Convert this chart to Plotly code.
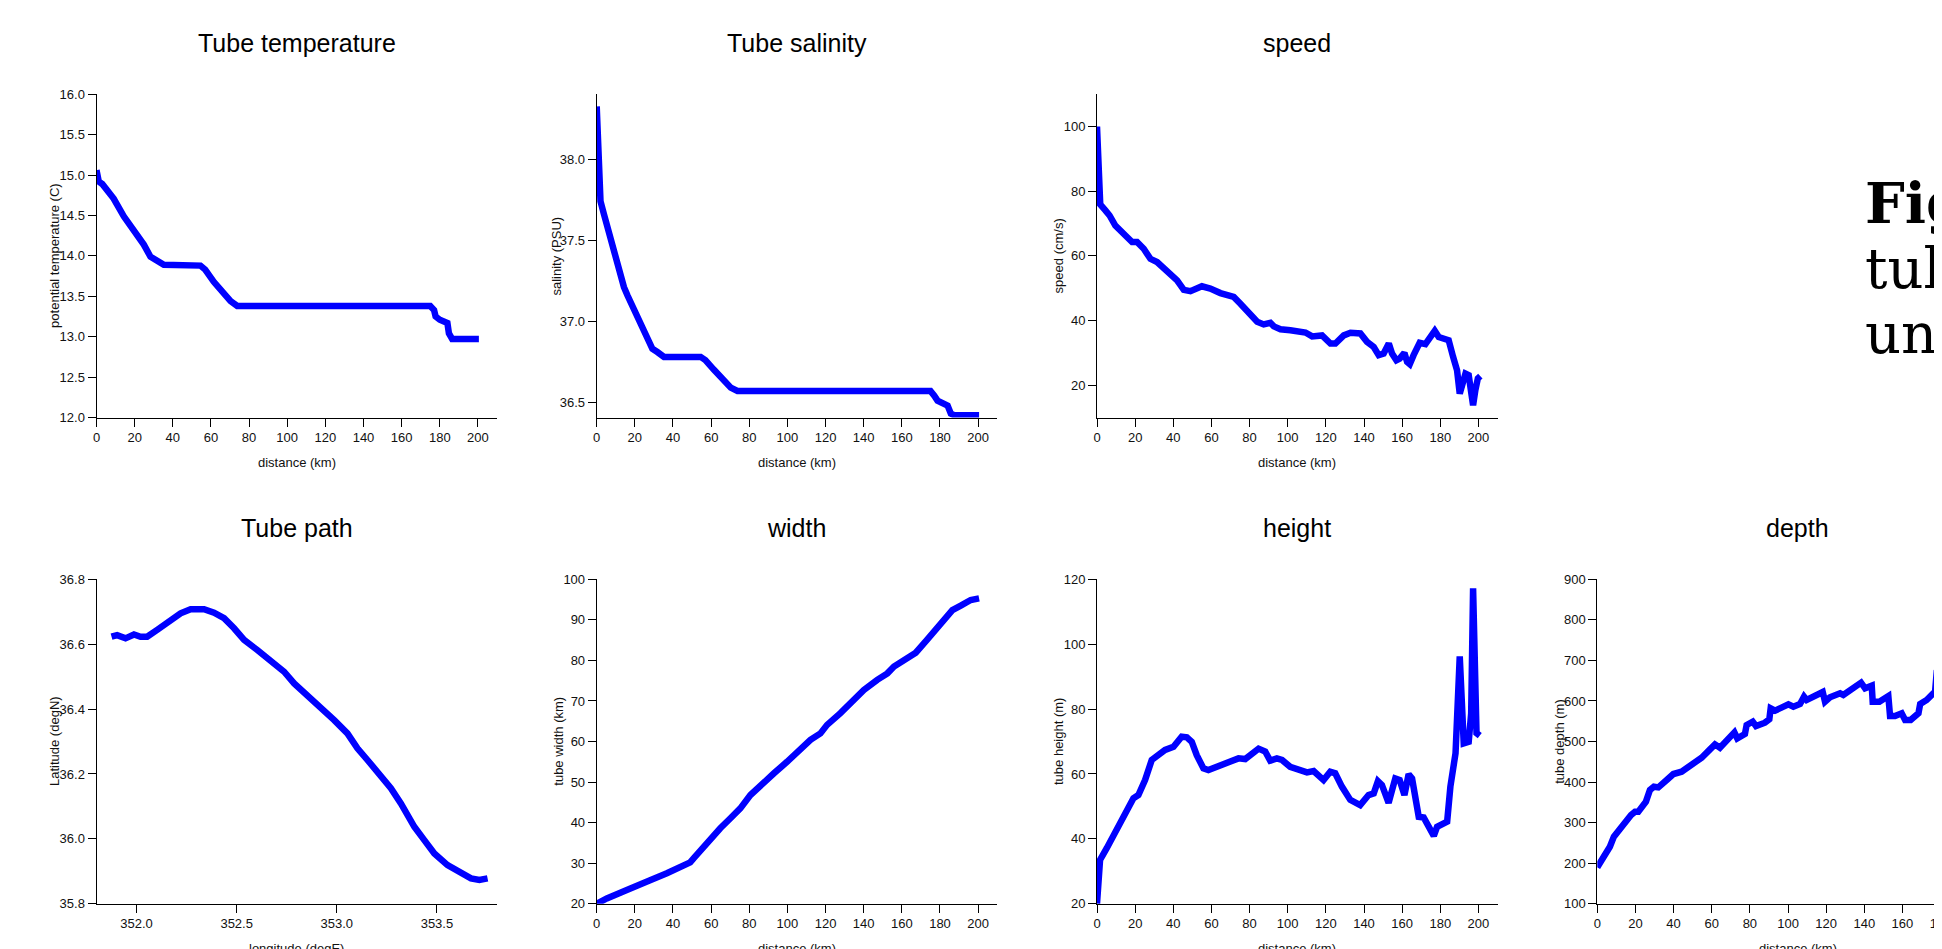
import plotly.graph_objects as go

# ---------------- data ----------------
temp_dist = [0, 0.6, 1.2, 3, 5.6, 9, 14.3, 17, 21.3, 24.8, 28.3, 31, 35.3, 54.5, 57, 61.5, 65, 70.3, 73.8,
             175, 177, 177.8, 180, 184, 184.8, 186.5, 200.5]
temp_vals = [15.06, 14.98, 14.92, 14.89, 14.82, 14.71, 14.49, 14.40, 14.28, 14.14, 13.99, 13.95, 13.89, 13.88,
             13.83, 13.68, 13.58, 13.44, 13.38, 13.38, 13.33, 13.25, 13.21, 13.17, 13.04, 12.97, 12.97]

sal_dist = [0, 0.5, 1.7, 2, 3.8, 6.5, 9.1, 11.7, 14.3, 16.1, 19.6, 21.9, 24, 26.6, 29.2, 31.8, 35.3,
            54.5, 57, 61.5, 65.9, 70.3, 73.8, 175, 177, 178.7, 184, 185.7, 187.4, 200.5]
sal_vals = [38.325, 38.16, 38.01, 37.74, 37.66, 37.54, 37.41, 37.31, 37.21, 37.16, 37.07, 37.01, 36.95,
            36.88, 36.83, 36.81, 36.78, 36.78, 36.76, 36.70, 36.64, 36.59, 36.57, 36.57, 36.54, 36.51,
            36.48, 36.43, 36.42, 36.42]

speed_dist = [0, 1.7, 4.4, 6.6, 9.6, 12.2, 14.9, 18.4, 21, 24.5, 28, 31.5, 35, 38.8, 42, 45.5, 49, 55,
              59.4, 64.7, 68.2, 71.7, 75.2, 79.5, 84, 87.4, 90.9, 92.7, 96.2, 101.4, 105.8, 109.3, 112.8,
              118, 122.4, 125, 129.4, 132.9, 138.1, 141.6, 145.1, 147.7, 150.3, 153, 154.7, 157, 158.7,
              161.2, 162.6, 164, 166, 169.2, 172.2, 174.8, 177.1, 179.2, 184.4, 186.7, 188.8, 190.2,
              191.4, 193.2, 194.9, 196.2, 197.2, 198.4, 199.7, 201]
speed_vals = [100, 75.9, 74.1, 72.5, 69.4, 68.1, 66.3, 64.3, 64.3, 62.2, 59.1, 58.1, 56.2, 54.7, 52.4,
              49.5, 49.1, 50.6, 49.9, 48.5, 48.0, 47.3, 45.2, 42.7, 39.6, 38.8, 39.3, 38.2, 37.3, 37.0,
              36.5, 36.3, 35.1, 35.4, 32.9, 32.9, 35.4, 36.2, 36.0, 33.4, 31.8, 29.3, 29.8, 32.9, 29.8,
              27.7, 28.2, 30.0, 27.2, 26.5, 29.3, 33.1, 32.7, 34.7, 36.8, 34.9, 33.9, 28.8, 24.6, 17.4,
              19.5, 23.6, 23.1, 17.9, 13.8, 18.5, 22.1, 22.8]

path_lon = [351.875, 351.903, 351.945, 351.987, 352.02, 352.053, 352.103, 352.153, 352.22, 352.27,
            352.337, 352.387, 352.437, 352.487, 352.537, 352.603, 352.67, 352.737, 352.787, 352.853,
            352.92, 352.987, 353.053, 353.103, 353.153, 353.22, 353.27, 353.32, 353.353, 353.387,
            353.437, 353.487, 353.553, 353.62, 353.67, 353.712, 353.753]
path_lat = [36.623, 36.628, 36.618, 36.630, 36.623, 36.623, 36.644, 36.664, 36.695, 36.708, 36.708,
            36.697, 36.680, 36.649, 36.613, 36.582, 36.551, 36.515, 36.479, 36.443, 36.407, 36.366,
            36.325, 36.279, 36.243, 36.192, 36.156, 36.109, 36.073, 36.037, 35.996, 35.955, 35.919,
            35.894, 35.878, 35.873, 35.878]

width_dist = [0, 5.3, 15.8, 21, 28, 36.8, 43.8, 49, 50.8, 54.3, 59.5, 64.8, 70, 75.3, 80.6, 85.8, 89.3,
              92.8, 99.8, 106.8, 112.1, 117.3, 120.8, 127.8, 134.8, 140.1, 147.1, 152.4, 155.9, 162,
              167.3, 173.4, 178.6, 182.1, 186.5, 190.9, 196.1, 200.5]
width_vals = [20, 21.3, 23.4, 24.6, 25.8, 27.5, 29.1, 30.2, 31.2, 33.2, 35.7, 38.6, 41.0, 43.5, 46.8,
              49.3, 50.5, 52.1, 55.0, 57.9, 60.4, 62.0, 64.1, 67.0, 70.2, 72.7, 75.2, 76.8, 78.5, 80.5,
              81.9, 85.2, 88.3, 90.4, 92.4, 93.5, 94.9, 95.3]

height_dist = [0, 1.6, 5.1, 8.6, 12.1, 15.6, 19.1, 21.7, 25.2, 28.7, 31.3, 35.7, 40.1, 44.4, 47.1, 49.7,
               52.3, 55.8, 58.4, 64.6, 69.8, 74.2, 77.7, 82, 84.7, 88.2, 90.8, 94.3, 97, 101.3, 106.6,
               110.1, 113.6, 116.2, 118.8, 122.3, 124.9, 128.4, 132.8, 138, 142.4, 145.1, 147.3, 149.4,
               152.9, 156.4, 158.7, 161.2, 163.4, 165.2, 168.7, 171.3, 176.6, 178.3, 183.6, 185.3, 188,
               190.2, 192.3, 194.9, 196.2, 197.2, 199, 200.7]
height_vals = [20, 33.5, 37.1, 41.2, 44.8, 48.9, 52.5, 53.5, 58.1, 64.3, 65.5, 67.4, 68.4, 71.5, 71.3,
               69.9, 65.8, 61.7, 61.2, 62.5, 64.0, 64.8, 64.6, 66.4, 67.8, 66.9, 64.1, 64.8, 64.3, 62.2,
               61.4, 60.5, 60.9, 59.7, 58.1, 60.7, 60.2, 56.1, 52.0, 50.4, 53.5, 54.0, 57.8, 56.6, 51.1,
               58.6, 58.1, 53.5, 59.9, 58.6, 46.8, 46.6, 40.9, 43.7, 45.3, 56.1, 66.4, 96.2, 69.4, 69.9,
               78.7, 117.2, 72.6, 71.8]

depth_dist = [0, 2.3, 4.5, 6.6, 8.7, 11.9, 14.5, 17.7, 19.8, 21.5, 25.5, 27.6, 29.7, 32, 36.4, 39.9, 44.2,
              49.5, 52.1, 54.7, 59.1, 61.7, 64.3, 68.7, 71.9, 73.4, 77.4, 78.3, 81.5, 83.2, 87.9, 90.2,
              90.9, 93.2, 100.2, 102.8, 106.3, 108.4, 109.8, 118.2, 119.4, 122, 127.3, 129, 134.3, 138.3,
              140.4, 143.9, 144.4, 147.9, 152.6, 153.5, 156.1, 159.6, 161.4, 164.3, 168.4, 169.3, 172.7,
              177.1, 178, 180.8, 185, 190, 195, 200]
depth_vals = [189.6, 207.7, 230.7, 240.6, 265.3, 285.8, 302.3, 318.7, 326.9, 326.9, 351.6, 380.4, 388.6,
              386.9, 405, 419.8, 425.6, 442.0, 454.4, 460.1, 480.7, 493.0, 484.8, 509.5, 522.6, 507.8,
              518.5, 540.7, 548.9, 538.2, 546.4, 554.7, 581.8, 576.1, 591.7, 585.9, 592.5, 610.6, 602.4,
              622.1, 598.3, 609.0, 618.8, 614.7, 631.1, 645.1, 631.1, 637.7, 598.3, 598.3, 612.2, 562.9,
              562.9, 569.5, 553.0, 553.0, 569.5, 592.5, 602.4, 622.9, 672.2, 682.1, 690, 700, 695, 710]

titles = ["Tube temperature", "Tube salinity", "speed", "Tube path", "width", "height", "depth"]
x_titles = ["distance (km)", "distance (km)", "distance (km)", "longitude (degE)",
            "distance (km)", "distance (km)", "distance (km)"]
y_titles = ["potential temperature (C)", "salinity (PSU)", "speed (cm/s)", "Latitude (degN)",
            "tube width (km)", "tube height (m)", "tube depth (m)"]
note_lines = ["<b>Figure 1.</b>", "tube properties along", "under the strait"]

# ---------------- layout geometry (page pixels) ----------------
W, H = 2000, 980
OFF = 8


def px_x(p):
    return (p - OFF) / W


def px_y(p):
    return 1 - (p - OFF) / H


col_left = [96.5, 596.7, 1097.0, 1597.3]
col_w = 400.5
row_top = [94.3, 579.3]
row_h = [323.2, 324.4]

panels = [
    dict(x=temp_dist, y=temp_vals, r=0, c=0, xr=[0, 210], yr=[12, 16], xd=20, yd=0.5, yf=".1f", xf="", yoff=41.5),
    dict(x=sal_dist, y=sal_vals, r=0, c=1, xr=[0, 210], yr=[36.406, 38.40], xd=20, yd=0.5, yf=".1f", xf="", yoff=40),
    dict(x=speed_dist, y=speed_vals, r=0, c=2, xr=[0, 210], yr=[10, 110], xd=20, yd=20, yf="", xf="", yoff=38.5),
    dict(x=path_lon, y=path_lat, r=1, c=0, xr=[351.8, 353.8], yr=[35.8, 36.8], xd=0.5, yd=0.2, yf=".1f", xf=".1f", yoff=42),
    dict(x=width_dist, y=width_vals, r=1, c=1, xr=[0, 210], yr=[20, 100], xd=20, yd=10, yf="", xf="", yoff=38.5),
    dict(x=height_dist, y=height_vals, r=1, c=2, xr=[0, 210], yr=[20, 120], xd=20, yd=20, yf="", xf="", yoff=38.5),
    dict(x=depth_dist, y=depth_vals, r=1, c=3, xr=[0, 210], yr=[100, 900], xd=20, yd=100, yf="", xf="", yoff=38),
]

FONT = "Liberation Sans, Arial, sans-serif"
fig = go.Figure()
annotations = []
layout = {}

for i, p in enumerate(panels):
    n = "" if i == 0 else str(i + 1)
    L = col_left[p["c"]]
    T = row_top[p["r"]]
    Hh = row_h[p["r"]]
    fig.add_trace(go.Scatter(x=p["x"], y=p["y"], mode="lines",
                             line=dict(color="#0000ff", width=6.5),
                             xaxis="x" + n, yaxis="y" + n, showlegend=False))
    common = dict(showline=True, linecolor="black", linewidth=1, ticks="outside", ticklen=8,
                  tickcolor="black", tickwidth=1, showgrid=False, zeroline=False,
                  tickfont=dict(family=FONT, size=13, color="#111111"), tick0=0)
    layout["xaxis" + n] = dict(domain=[px_x(L), px_x(L + col_w)], range=p["xr"], anchor="y" + n,
                               dtick=p["xd"], tickformat=p["xf"], **common)
    layout["yaxis" + n] = dict(domain=[px_y(T + Hh), px_y(T)], range=p["yr"], anchor="x" + n,
                               dtick=p["yd"], tickformat=p["yf"], **common)
    cx = L + col_w / 2
    annotations.append(dict(text=titles[i], x=px_x(cx), y=px_y(T - 51), xref="paper", yref="paper",
                            xanchor="center", yanchor="middle", showarrow=False,
                            font=dict(family=FONT, size=25, color="black")))
    annotations.append(dict(text=x_titles[i], x=px_x(cx), y=px_y(T + Hh + 44.7), xref="paper", yref="paper",
                            xanchor="center", yanchor="middle", showarrow=False,
                            font=dict(family=FONT, size=13, color="#111111")))
    annotations.append(dict(text=y_titles[i], x=px_x(L - p["yoff"]), y=px_y(T + Hh / 2), xref="paper",
                            yref="paper", xanchor="center", yanchor="middle", textangle=-90,
                            showarrow=False, font=dict(family=FONT, size=13, color="#111111")))

note_text = "<br>".join('<span style="font-size:56px">' + s + "</span>" for s in note_lines)
annotations.append(dict(text=note_text, x=px_x(1863), y=px_y(268), xref="paper", yref="paper",
                        xanchor="left", yanchor="middle", align="left", showarrow=False,
                        font=dict(family="DejaVu Serif, serif", size=50, color="black")))

fig.update_layout(width=W, height=H, autosize=False,
                  margin=dict(l=0, r=0, t=0, b=0, pad=0, autoexpand=False),
                  paper_bgcolor="white", plot_bgcolor="white",
                  annotations=annotations, **layout)

fig.write_html("out.html")
